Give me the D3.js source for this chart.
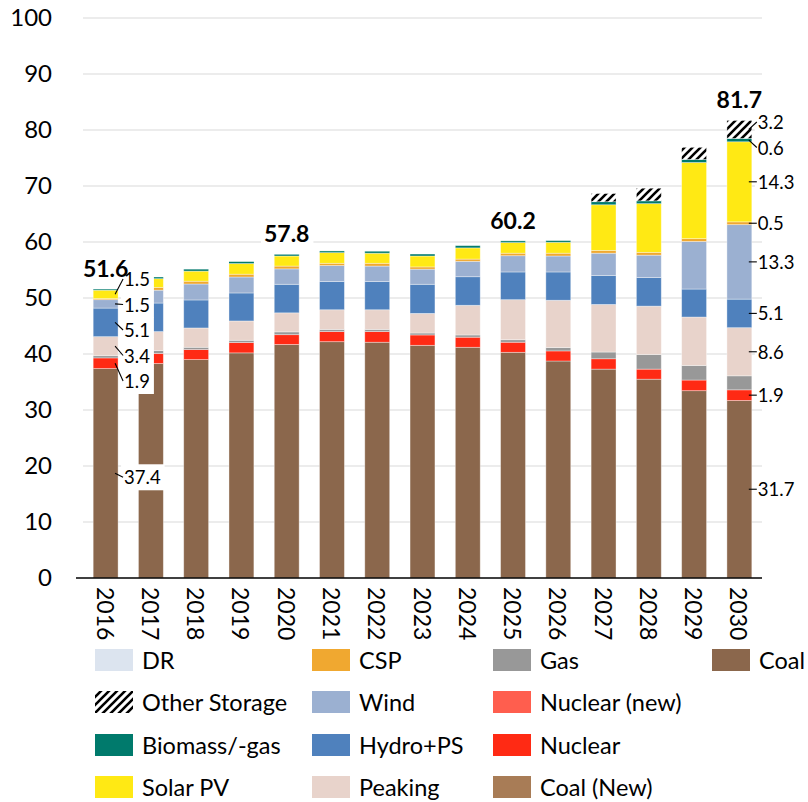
<!DOCTYPE html>
<html>
<head>
<meta charset="utf-8">
<script src="https://cdn.jsdelivr.net/npm/d3@7/dist/d3.min.js"></script>
<style>
  html, body { margin: 0; padding: 0; background: #ffffff; }
  svg { display: block; font-family: Lato, "Open Sans", sans-serif; }
</style>
</head>
<body>
<svg id="chart" width="808" height="802"></svg>
<script>
// Installed capacity by technology, GW
const years = [2016, 2017, 2018, 2019, 2020, 2021, 2022, 2023, 2024, 2025, 2026, 2027, 2028, 2029, 2030];

const coal         = [37.4, 38.3, 39.0, 40.2, 41.7, 42.2, 42.1, 41.55, 41.2, 40.3, 38.75, 37.3, 35.5, 33.45, 31.7];
const coalNew      = [0, 0, 0, 0, 0, 0, 0, 0, 0, 0, 0, 0, 0, 0, 0];
const nuclear      = [1.9, 1.8, 1.8, 1.85, 1.75, 1.8, 1.9, 1.85, 1.8, 1.8, 1.8, 1.85, 1.8, 1.9, 1.9];
const nuclearNew   = [0, 0, 0, 0, 0, 0, 0, 0, 0, 0, 0, 0, 0, 0, 0];
const gas          = [0.4, 0.5, 0.4, 0.4, 0.5, 0.4, 0.4, 0.35, 0.4, 0.45, 0.6, 1.2, 2.6, 2.6, 2.5];
const peaking      = [3.4, 3.4, 3.45, 3.45, 3.4, 3.5, 3.5, 3.5, 5.3, 7.15, 8.45, 8.5, 8.65, 8.65, 8.6];
const hydroPS      = [5.1, 5.1, 5.0, 5.0, 5.1, 5.05, 5.05, 5.2, 5.1, 4.95, 5.05, 5.15, 5.1, 5.0, 5.1];
const wind         = [1.5, 2.3, 2.85, 2.85, 2.75, 2.85, 2.75, 2.7, 2.75, 2.9, 2.85, 4.0, 4.0, 8.5, 13.3];
const csp          = [0.2, 0.5, 0.5, 0.5, 0.5, 0.4, 0.5, 0.4, 0.4, 0.45, 0.5, 0.5, 0.5, 0.5, 0.5];
const solarPV      = [1.5, 1.55, 1.8, 1.9, 1.8, 1.9, 1.8, 1.95, 2.0, 1.9, 1.95, 8.15, 8.7, 13.6, 14.3];
const biomass      = [0.2, 0.3, 0.35, 0.35, 0.3, 0.3, 0.35, 0.35, 0.4, 0.3, 0.3, 0.55, 0.5, 0.55, 0.6];
const otherStorage = [0, 0, 0, 0, 0, 0, 0, 0, 0, 0, 0, 1.45, 2.25, 2.15, 3.2];
const dr           = [0, 0, 0, 0, 0, 0, 0, 0, 0, 0, 0, 0, 0, 0, 0];

const yTicks = [0, 10, 20, 30, 40, 50, 60, 70, 80, 90, 100];

// Years whose bar total is printed above the bar
const totalYears = [2016, 2020, 2025, 2030];

// Segments labelled beside a bar, per year
const segmentLabels = [
  { year: 2016, keys: ["Coal", "Nuclear", "Peaking", "Hydro+PS", "Wind", "Solar PV"], nudge: 4 },
  { year: 2030, keys: ["Coal", "Nuclear", "Peaking", "Hydro+PS", "Wind", "CSP", "Solar PV",
                       "Biomass/-gas", "Other Storage"], nudge: 0 }
];

// Stack order, bottom to top
const seriesDefs = [
  { key: "Coal",          values: coal,         color: "#8B674C" },
  { key: "Coal (New)",    values: coalNew,      color: "#A87C56" },
  { key: "Nuclear",       values: nuclear,      color: "#FF2A14" },
  { key: "Nuclear (new)", values: nuclearNew,   color: "#FF5E4E" },
  { key: "Gas",           values: gas,          color: "#989898" },
  { key: "Peaking",       values: peaking,      color: "#E8D3CB" },
  { key: "Hydro+PS",      values: hydroPS,      color: "#4F81BD" },
  { key: "Wind",          values: wind,         color: "#9BB0D1" },
  { key: "CSP",           values: csp,          color: "#F0A830" },
  { key: "Solar PV",      values: solarPV,      color: "#FFE914" },
  { key: "Biomass/-gas",  values: biomass,      color: "#007A6C" },
  { key: "Other Storage", values: otherStorage, color: "url(#hatch)" },
  { key: "DR",            values: dr,           color: "#DCE4EF" }
];

// Legend, read column by column, four rows per column
const legendOrder = ["DR", "Other Storage", "Biomass/-gas", "Solar PV",
                     "CSP", "Wind", "Hydro+PS", "Peaking",
                     "Gas", "Nuclear (new)", "Nuclear", "Coal (New)",
                     "Coal"];

const keys = seriesDefs.map(d => d.key);
const colorOf = Object.fromEntries(seriesDefs.map(d => [d.key, d.color]));
const table = years.map((yr, i) => {
  const row = { year: yr };
  seriesDefs.forEach(s => { row[s.key] = s.values[i]; });
  return row;
});

const svg = d3.select("#chart");

// Diagonal hatch for storage
const defs = svg.append("defs");
const pat = defs.append("pattern")
  .attr("id", "hatch")
  .attr("patternUnits", "userSpaceOnUse")
  .attr("width", 8).attr("height", 8);
pat.append("rect").attr("width", 8).attr("height", 8).attr("fill", "#ffffff");
pat.append("path")
  .attr("d", "M-2,2 L2,-2 M0,8 L8,0 M6,10 L10,6")
  .attr("stroke", "#000").attr("stroke-width", 2.6);

const plot = { left: 83, right: 762, top: 18, bottom: 578 };

const x = d3.scaleBand()
  .domain(years)
  .range([plot.left, plot.right])
  .paddingInner(0.45)
  .paddingOuter(0.225);

const y = d3.scaleLinear().domain([0, 100]).range([plot.bottom, plot.top]);

// Gridlines
svg.append("g")
  .selectAll("line")
  .data(yTicks.filter(t => t > 0))
  .join("line")
  .attr("x1", plot.left).attr("x2", plot.right)
  .attr("y1", d => y(d)).attr("y2", d => y(d))
  .attr("stroke", "#d9d9d9").attr("stroke-width", 1);

// Y axis tick labels (no axis line)
const yAxis = d3.axisLeft(y).tickValues(yTicks).tickSize(0).tickPadding(0);
const yg = svg.append("g").attr("transform", "translate(52,0)").call(yAxis);
yg.select(".domain").remove();
yg.selectAll("text")
  .attr("font-family", "Lato, sans-serif")
  .attr("font-size", 24)
  .attr("fill", "#000");

// Stacked bars
const stacked = d3.stack().keys(keys)(table);

svg.append("g")
  .selectAll("g")
  .data(stacked)
  .join("g")
  .attr("fill", d => colorOf[d.key])
  .selectAll("rect")
  .data(d => d.filter(p => p[1] - p[0] > 0))
  .join("rect")
  .attr("x", d => x(d.data.year))
  .attr("width", x.bandwidth())
  .attr("y", d => y(d[1]))
  .attr("height", d => y(d[0]) - y(d[1]))
  .attr("stroke", "#ffffff")
  .attr("stroke-opacity", 0.45)
  .attr("stroke-width", 0.8);

// X axis line and rotated year labels
svg.append("line")
  .attr("x1", 76).attr("x2", plot.right)
  .attr("y1", plot.bottom).attr("y2", plot.bottom)
  .attr("stroke", "#000").attr("stroke-width", 1.6);

const xAxis = d3.axisBottom(x).tickSize(0).tickPadding(0);
const xg = svg.append("g").attr("transform", `translate(0,${plot.bottom})`).call(xAxis);
xg.select(".domain").remove();
xg.selectAll("text")
  .attr("font-family", "Lato, sans-serif")
  .attr("font-size", 23)
  .attr("fill", "#000")
  .attr("dy", null)
  .attr("text-anchor", "start")
  .attr("dominant-baseline", "central")
  .attr("transform", "translate(0,9) rotate(90)");

// Segment labels beside a bar, spread apart when they would collide
function spread(items, gap) {
  items.sort((a, b) => a.target - b.target);
  let clusters = items.map(it => ({ members: [it], mean: it.target }));
  const place = c => {
    const n = c.members.length;
    const top = c.mean - (n - 1) * gap / 2;
    c.members.forEach((m, i) => { m.pos = top + i * gap; });
  };
  clusters.forEach(place);
  let merged = true;
  while (merged) {
    merged = false;
    for (let i = 0; i < clusters.length - 1; i++) {
      const a = clusters[i], b = clusters[i + 1];
      if (b.members[0].pos - a.members[a.members.length - 1].pos < gap) {
        const members = a.members.concat(b.members);
        const c = { members, mean: d3.mean(members, m => m.target) };
        place(c);
        clusters.splice(i, 2, c);
        merged = true;
        break;
      }
    }
  }
  return items;
}

// Collect every label first so boxes, leaders and texts can be layered
const labels = [];

segmentLabels.forEach(spec => {
  const items = [];
  spec.keys.forEach(k => {
    const layer = stacked.find(l => l.key === k);
    const p = layer.find(q => q.data.year === spec.year);
    items.push({ value: p[1] - p[0], target: y((p[0] + p[1]) / 2) });
  });
  spread(items, 25.5);
  const barRight = x(spec.year) + x.bandwidth();
  items.forEach(it => {
    labels.push({
      text: d3.format(".1f")(it.value),
      x: barRight + 6, y: it.pos + spec.nudge, anchor: "start",
      size: 18.5, weight: "normal",
      leader: [barRight - 3, it.target, barRight + 5, it.pos + spec.nudge]
    });
  });
});

totalYears.forEach(yr => {
  const i = years.indexOf(yr);
  const total = d3.sum(seriesDefs, s => s.values[i]);
  labels.push({
    text: d3.format(".1f")(total),
    x: x(yr) + x.bandwidth() / 2, y: y(total) - 21, anchor: "middle",
    size: 23, weight: "bold", leader: null
  });
});

const boxLayer = svg.append("g");
const leaderLayer = svg.append("g");
const textLayer = svg.append("g");

labels.forEach(lb => {
  const t = textLayer.append("text")
    .attr("x", lb.x).attr("y", lb.y)
    .attr("text-anchor", lb.anchor)
    .attr("dominant-baseline", "central")
    .attr("font-family", "Lato, sans-serif")
    .attr("font-size", lb.size)
    .attr("font-weight", lb.weight)
    .attr("fill", "#000")
    .text(lb.text);
  const w = t.node().getComputedTextLength();
  const left = lb.anchor === "middle" ? lb.x - w / 2 : lb.x;
  const h = lb.weight === "bold" ? 28 : 26;
  boxLayer.append("rect")
    .attr("x", left - 3).attr("y", lb.y - h / 2)
    .attr("width", w + 7).attr("height", h)
    .attr("fill", "#ffffff");
  if (lb.leader) {
    const [x1, y1, x2, y2] = lb.leader;
    leaderLayer.append("line")
      .attr("x1", x1).attr("y1", y1)
      .attr("x2", x2).attr("y2", y2)
      .attr("stroke", "#000").attr("stroke-width", 1.1);
  }
});

// Legend
const legendCols = [95, 312, 493, 712];
const legendRows = [660, 702, 745, 787];
const legend = svg.append("g");
legendOrder.forEach((name, i) => {
  const col = Math.floor(i / 4), row = i % 4;
  const lx = legendCols[col], ly = legendRows[row];
  legend.append("rect")
    .attr("x", lx).attr("y", ly - 11)
    .attr("width", 38).attr("height", 22)
    .attr("fill", colorOf[name]);
  legend.append("text")
    .attr("x", lx + 47).attr("y", ly)
    .attr("dominant-baseline", "central")
    .attr("font-family", "Lato, sans-serif")
    .attr("font-size", 23.5)
    .attr("fill", "#000")
    .text(name);
});
</script>
</body>
</html>
